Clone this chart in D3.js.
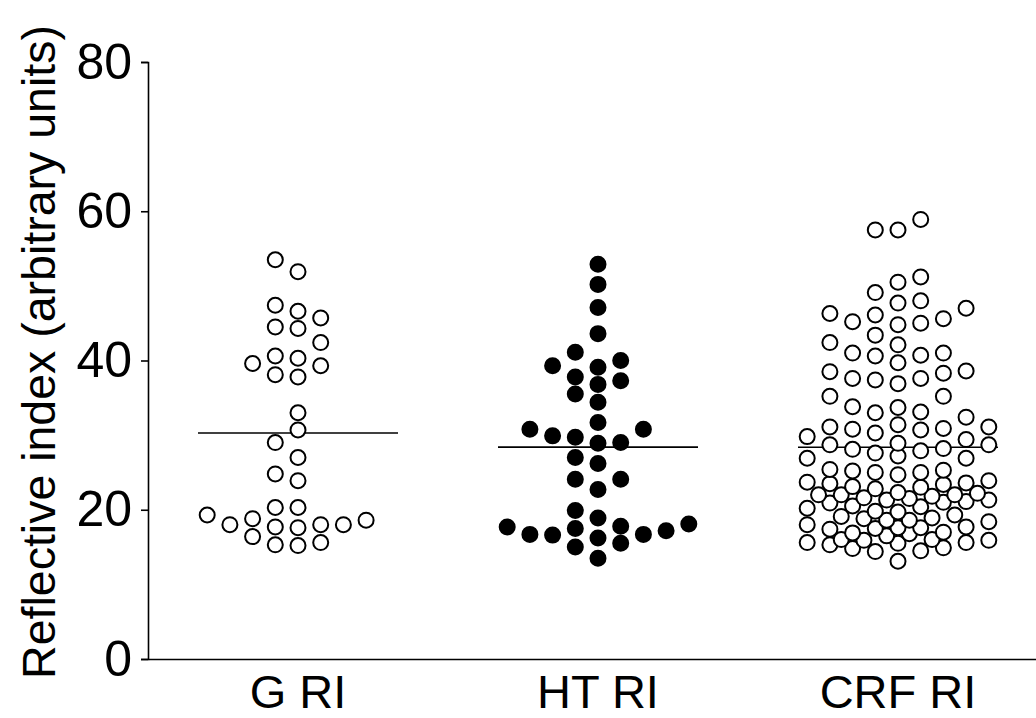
<!DOCTYPE html>
<html>
<head>
<meta charset="utf-8">
<script src="https://cdn.jsdelivr.net/npm/d3@7"></script>
<style>
  body { margin: 0; background: #fff; }
  text { font-family: "Liberation Sans", Arial, sans-serif; }
</style>
</head>
<body>
<div id="chart"></div>
<script>
const categories = ["G RI", "HT RI", "CRF RI"];
const filled = [false, true, false];
const yTicks = [0, 20, 40, 60, 80];

const gValues = [53.5, 51.9, 47.4, 46.6, 45.7, 44.5, 44.3, 42.4, 40.6, 39.6, 38.1, 37.8,
    39.3, 40.3, 33.0, 30.7, 29.0, 27.0, 23.9, 24.8, 20.3, 20.3, 18.0, 18.0, 17.7, 18.8,
    18.6, 19.3, 17.6, 18.0, 15.6, 15.2, 15.3, 16.4];

const htValues = [52.9, 50.2, 47.1, 43.6, 41.1, 40.0, 39.3, 39.1, 37.3, 37.8, 36.8, 35.5,
    34.4, 31.7, 30.8, 29.7, 28.9, 29.0, 29.9, 30.8, 27.0, 26.2, 24.1, 24.1, 22.7, 19.9,
    18.1, 17.7, 17.2, 16.7, 15.5, 16.6, 13.5, 16.7, 15.0, 17.5, 16.2, 17.8, 18.9];

const crfValues = [58.9, 57.5, 57.5, 50.5, 51.2, 49.1, 48.0, 47.7, 46.3, 45.6, 45.0, 44.8,
    45.2, 46.1, 47.0, 43.4, 42.1, 41.0, 40.6, 40.7, 41.0, 42.4, 39.7, 38.5, 37.6, 37.4,
    36.9, 37.6, 38.3, 38.6, 35.2, 33.7, 33.0, 33.1, 33.8, 35.2, 32.4, 31.4, 31.1, 30.8,
    30.3, 29.4, 29.8, 28.9, 30.7, 30.9, 31.1, 28.7, 28.2, 27.9, 27.2, 26.9, 26.9, 27.6,
    28.1, 28.7, 25.3, 25.0, 25.2, 25.4, 24.7, 25.0, 23.7, 23.5, 23.1, 23.4, 23.6, 23.9,
    23.0, 22.8, 22.2, 22.0, 21.8, 21.5, 22.3, 21.3, 21.6, 22.0, 22.0, 21.3, 21.0, 20.5,
    20.2, 19.7, 19.8, 20.4, 20.9, 21.1, 19.1, 18.8, 18.6, 18.0, 18.4, 18.6, 18.9, 19.3,
    17.6, 17.5, 16.9, 16.8, 16.5, 17.0, 17.4, 17.6, 17.7, 16.0, 15.9, 15.9, 16.0, 15.6,
    15.5, 14.9, 14.5, 14.4, 14.8, 15.3, 15.6, 13.1];

const groups = [gValues, htValues, crfValues];

const width = 1036, height = 718;
const margin = { top: 62, right: 0, bottom: 59, left: 148 };
const r = 7.5;
const colStep = 22.7;
const maxCol = 4;

const svg = d3.select("#chart")
    .append("svg")
    .attr("width", width)
    .attr("height", height);

const y = d3.scaleLinear()
    .domain([0, 80])
    .range([height - margin.bottom, margin.top]);

const x = d3.scaleBand()
    .domain(categories)
    .range([margin.left, margin.left + 900]);

// column beeswarm, close to the dot plots in Prism:
// whole columns first, half columns where it gets crowded
function swarm(values, cx) {
    const placed = [];
    const nearest = (px, py) => placed.length
        ? d3.min(placed, p => Math.hypot(p.x - px, p.y - py)) : Infinity;
    const order = n => {
        const out = [0];
        for (let k = 1; k <= n; k++) out.push(-k, k);
        return out;
    };
    const full = order(maxCol).map(k => k * colStep);
    const half = order(maxCol * 2).map(k => k * colStep / 2);

    values.slice().sort(d3.ascending).forEach(v => {
        const py = y(v);
        let px = full.find(dx => nearest(cx + dx, py) >= 17);
        if (px === undefined) px = full.find(dx => nearest(cx + dx, py) >= 15);
        if (px === undefined) px = half.find(dx => nearest(cx + dx, py) >= 12.5);
        if (px === undefined) px = d3.greatest(half, dx => nearest(cx + dx, py));
        placed.push({ x: cx + px, y: py, v });
    });
    return placed;
}

groups.forEach((vals, i) => {
    const cx = x(categories[i]) + x.bandwidth() / 2;
    const pts = swarm(vals, cx);
    const mean = d3.mean(vals);

    svg.append("line")
        .attr("x1", cx - 100)
        .attr("x2", cx + 100)
        .attr("y1", y(mean))
        .attr("y2", y(mean))
        .attr("stroke", "#000")
        .attr("stroke-width", 1.6);

    svg.append("g")
        .selectAll("circle")
        .data(pts)
        .enter()
        .append("circle")
        .attr("cx", d => d.x)
        .attr("cy", d => d.y)
        .attr("r", r)
        .attr("fill", filled[i] ? "#000" : "#fff")
        .attr("stroke", "#000")
        .attr("stroke-width", 2);
});

const yAxis = svg.append("g")
    .attr("transform", `translate(${margin.left},0)`)
    .call(d3.axisLeft(y).tickValues(yTicks).tickSize(7).tickPadding(9));
yAxis.selectAll("text").attr("font-size", 50).attr("fill", "#000")
    .style("font-family", "'Liberation Sans', Arial, sans-serif");

const xAxis = svg.append("g")
    .attr("transform", `translate(0,${height - margin.bottom})`)
    .call(d3.axisBottom(x).tickSize(0).tickPadding(16));
xAxis.selectAll("text").attr("font-size", 47).attr("fill", "#000")
    .style("font-family", "'Liberation Sans', Arial, sans-serif");

svg.selectAll(".domain").attr("stroke-width", 1.6);
svg.selectAll(".tick line").attr("stroke-width", 1.6);

svg.append("text")
    .attr("transform", "translate(55,352) rotate(-90)")
    .attr("text-anchor", "middle")
    .attr("font-size", 46.5)
    .text("Reflective index (arbitrary units)");
</script>
</body>
</html>
